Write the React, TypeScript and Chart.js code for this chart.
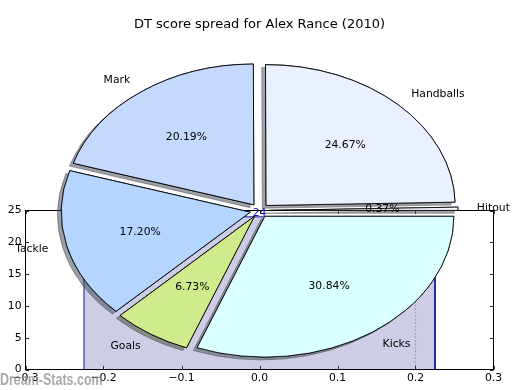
import React, { useEffect, useRef } from 'react';
import { Chart, registerables } from 'chart.js';

Chart.register(...registerables);

// ---- Pie data (matplotlib order, counter-clockwise from east) ----
const sliceLabels = ['Hitout', 'Handballs', 'Mark', 'Tackle', 'Goals', 'Kicks'];
const sliceCounts = [2, 132, 108, 92, 36, 165];
const sliceColors = ['#f4f6ff', '#eaf0ff', '#c5d9ff', '#b3d5ff', '#d0eb8b', '#d9ffff'];
const explodeFractions = [0.05, 0.05, 0.05, 0.05, 0.05, 0.05];
const chartTitle = 'DT score spread for Alex Rance (2010)';

// ---- Background bar axes data ----
const barLeft = -0.225;
const barRight = 0.225;
const barValue = 24;
const guideLineX = 0.2;
const xRange = [-0.3, 0.3];
const xStep = 0.1;
const yRange = [0, 25];
const yStep = 5;

const watermark = 'Dream-Stats.com';

const W = 520;
const H = 390;
const PIE_RADIUS = 189;
const PIE_SQUASH = 0.745;
const FONT = 'DejaVu Sans';
const FS = 10.8;
const BAR_FILL = '#cdcde6';
const BAR_EDGE = '#10109a';

function shadowOf(hex: string) {
  const n = parseInt(hex.slice(1), 16);
  const r = Math.round(((n >> 16) & 255) * 0.3);
  const g = Math.round(((n >> 8) & 255) * 0.3);
  const b = Math.round((n & 255) * 0.3);
  return `rgba(${r},${g},${b},0.5)`;
}

const piePlugin = {
  id: 'ellipticPie',
  beforeDatasetsDraw(chart: any) {
    const ctx = chart.ctx;
    const meta = chart.getDatasetMeta(0);
    const drawPass = (withShadow: boolean) => {
      meta.data.forEach((arc: any, i: number) => {
        const mid = (arc.startAngle + arc.endAngle) / 2;
        const e = explodeFractions[i] * arc.outerRadius;
        ctx.save();
        if (withShadow) {
          ctx.shadowColor = shadowOf(sliceColors[i]);
          ctx.shadowOffsetX = -3.8;
          ctx.shadowOffsetY = 2.8;
          ctx.shadowBlur = 0;
        }
        ctx.translate(arc.x, arc.y);
        ctx.scale(1, -PIE_SQUASH);
        ctx.translate(-arc.x, -arc.y);
        ctx.translate(Math.cos(mid) * e, Math.sin(mid) * e);
        arc.draw(ctx);
        ctx.restore();
      });
    };
    drawPass(true);
    drawPass(false);
    return false;
  },
  afterDraw(chart: any) {
    const ctx = chart.ctx;
    const meta = chart.getDatasetMeta(0);
    const total = sliceCounts.reduce((a, b) => a + b, 0);
    ctx.save();
    ctx.font = `${FS}px "${FONT}"`;
    ctx.fillStyle = '#000';
    ctx.textBaseline = 'middle';
    meta.data.forEach((arc: any, i: number) => {
      const mid = (arc.startAngle + arc.endAngle) / 2;
      const R = arc.outerRadius;
      const e = explodeFractions[i] * R;
      const cx = arc.x + Math.cos(mid) * e;
      const cy = arc.y + Math.sin(mid) * e;
      const toY = (py: number) => arc.y - PIE_SQUASH * (py - arc.y);
      // outer label
      const lx = cx + Math.cos(mid) * 1.1 * R;
      const ly = toY(cy + Math.sin(mid) * 1.1 * R);
      ctx.textAlign = Math.cos(mid) > 0 ? 'left' : 'right';
      ctx.fillText(sliceLabels[i], lx, ly);
      // percentage
      const px = cx + Math.cos(mid) * 0.6 * R;
      const py = toY(cy + Math.sin(mid) * 0.6 * R);
      ctx.textAlign = 'center';
      ctx.fillText(((sliceCounts[i] / total) * 100).toFixed(2) + '%', px, py);
    });
    ctx.restore();
  },
};

const axesPlugin = {
  id: 'mplAxes',
  afterDraw(chart: any) {
    const ctx = chart.ctx;
    const { left, right, top, bottom } = chart.chartArea;
    const xs = chart.scales.x;
    const ys = chart.scales.y;
    ctx.save();
    ctx.strokeStyle = '#000';
    ctx.lineWidth = 1;
    ctx.strokeRect(left, top, right - left, bottom - top);
    ctx.strokeStyle = '#333';
    ctx.beginPath();
    xs.ticks.forEach((t: any) => {
      const p = Math.round(xs.getPixelForValue(t.value)) + 0.5;
      ctx.moveTo(p, bottom);
      ctx.lineTo(p, bottom - 3.6);
      ctx.moveTo(p, top);
      ctx.lineTo(p, top + 3.6);
    });
    ys.ticks.forEach((t: any) => {
      const p = Math.round(ys.getPixelForValue(t.value)) + 0.5;
      ctx.moveTo(left, p);
      ctx.lineTo(left + 3.6, p);
      ctx.moveTo(right, p);
      ctx.lineTo(right - 3.6, p);
    });
    ctx.stroke();
    // value label above the bar
    ctx.fillStyle = BAR_EDGE;
    ctx.font = `${FS}px "${FONT}"`;
    ctx.textAlign = 'center';
    ctx.textBaseline = 'alphabetic';
    ctx.fillText(String(barValue), xs.getPixelForValue((barLeft + barRight) / 2), ys.getPixelForValue(barValue) - 1);
    ctx.restore();
  },
};

function fmtX(v: number) {
  if (Math.abs(v) < 1e-9) return '0.0';
  const s = v.toFixed(1);
  return s.replace('-', '\u2212');
}

export default function App() {
  const barRef = useRef<HTMLCanvasElement>(null);
  const pieRef = useRef<HTMLCanvasElement>(null);

  useEffect(() => {
    const barChart = new Chart(barRef.current as HTMLCanvasElement, {
      type: 'line',
      data: {
        datasets: [
          {
            data: [
              { x: barLeft, y: 0 },
              { x: barLeft, y: barValue },
              { x: barRight, y: barValue },
              { x: barRight, y: 0 },
            ],
            fill: 'origin',
            backgroundColor: BAR_FILL,
            borderColor: BAR_EDGE,
            borderWidth: 1,
            pointRadius: 0,
            tension: 0,
            order: 2,
          },
          {
            data: [
              { x: guideLineX, y: 0 },
              { x: guideLineX, y: barValue },
            ],
            fill: false,
            borderColor: '#9a9a9a',
            borderDash: [1.5, 2],
            borderWidth: 1.2,
            pointRadius: 0,
            order: 1,
          },
        ],
      } as any,
      options: {
        responsive: false,
        animation: false,
        devicePixelRatio: 1,
        events: [],
        layout: { padding: { top: 210.5, right: 26.5, bottom: 0, left: 0 } },
        plugins: { legend: { display: false }, tooltip: { enabled: false }, title: { display: false } },
        scales: {
          x: {
            type: 'linear',
            min: xRange[0],
            max: xRange[1],
            grid: { display: false, drawTicks: false },
            border: { display: false },
            ticks: {
              stepSize: xStep,
              autoSkip: false,
              maxRotation: 0,
              padding: 2,
              color: '#000',
              font: { family: FONT, size: FS },
              callback: (v: any) => fmtX(Number(v)),
            },
            afterFit: (s: any) => {
              s.height = 20.5;
            },
          },
          y: {
            type: 'linear',
            min: yRange[0],
            max: yRange[1],
            grid: { display: false, drawTicks: false },
            border: { display: false },
            ticks: {
              stepSize: yStep,
              padding: 4,
              color: '#000',
              font: { family: FONT, size: FS },
            },
            afterFit: (s: any) => {
              s.width = 25.5;
            },
          },
        },
      } as any,
      plugins: [axesPlugin],
    });

    const pieChart = new Chart(pieRef.current as HTMLCanvasElement, {
      type: 'pie',
      data: {
        labels: sliceLabels,
        datasets: [
          {
            data: sliceCounts,
            backgroundColor: sliceColors,
            borderColor: '#000',
            borderWidth: 1,
            borderJoinStyle: 'miter',
          },
        ],
      } as any,
      options: {
        responsive: false,
        animation: false,
        devicePixelRatio: 1,
        events: [],
        rotation: 90,
        radius: PIE_RADIUS,
        layout: { padding: { top: 0, left: 0, right: 1, bottom: 1.6 } },
        plugins: {
          legend: { display: false },
          tooltip: { enabled: false },
          title: {
            display: true,
            text: chartTitle,
            color: '#000',
            font: { family: FONT, size: 13, weight: 'normal', lineHeight: 1.2 },
            padding: { top: 17, bottom: 0 },
          },
        },
      } as any,
      plugins: [piePlugin],
    });

    return () => {
      barChart.destroy();
      pieChart.destroy();
    };
  }, []);

  const abs: React.CSSProperties = { position: 'absolute', left: 0, top: 0 };
  return (
    <div style={{ position: 'absolute', left: 0, top: 0, width: W, height: H, background: '#fff' }}>
      <canvas ref={barRef} width={W} height={H} style={{ ...abs, width: W, height: H }} />
      <canvas ref={pieRef} width={W} height={H} style={{ ...abs, width: W, height: H }} />
      <div
        style={{
          position: 'absolute',
          left: 0,
          top: 371.5,
          fontFamily: '"Liberation Sans", Arial, sans-serif',
          fontWeight: 'bold',
          fontSize: 16,
          lineHeight: '16px',
          color: 'rgba(140,140,140,0.75)',
          transform: 'scaleX(0.78)',
          transformOrigin: 'left top',
          whiteSpace: 'nowrap',
          pointerEvents: 'none',
        }}
      >
        {watermark}
      </div>
    </div>
  );
}
